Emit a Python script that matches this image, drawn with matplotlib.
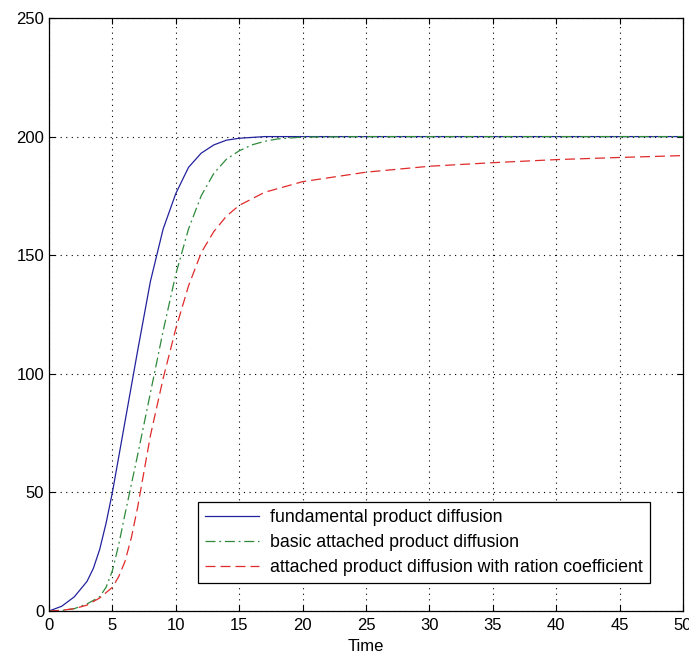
import numpy as np
import matplotlib
matplotlib.use('Agg')
import matplotlib.pyplot as plt

plt.rcParams['font.family'] = ['Liberation Sans', 'DejaVu Sans']

# values
t_fund = [0, 1, 2, 3, 3.5, 4, 4.5, 5, 5.5, 6, 6.5, 7, 8, 9, 10, 11, 12, 13, 14, 15, 17, 20, 25, 50]
y_fund = [0, 2, 6, 12.5, 18, 26, 37, 50, 65, 80, 95, 110, 139, 161, 176, 187, 193, 196.5, 198.5, 199.3, 200, 200, 200, 200]

t_basic = [0, 1, 2, 3, 4, 4.5, 5, 5.5, 6, 7, 8, 9, 10, 11, 12, 13, 14, 15, 16, 17, 18, 20, 25, 50]
y_basic = [0, 0.2, 1, 3, 6, 10, 17, 28, 41, 66, 92, 118, 142, 161, 175, 184.5, 190.5, 194, 196.5, 198, 199, 199.8, 200, 200]

t_ratio = [0, 1, 2, 3, 4, 5, 5.5, 6, 6.5, 7, 8, 9, 10, 11, 12, 13, 14, 15, 17, 20, 25, 30, 35, 40, 45, 50]
y_ratio = [0, 0.3, 1, 2.5, 5.5, 10, 14.5, 21, 31, 44, 74, 98, 119, 137, 151, 160, 166.5, 171, 176.5, 181, 185, 187.5, 189, 190.3, 191.2, 192]

labels = ['fundamental product diffusion',
          'basic attached product diffusion',
          'attached product diffusion with ration coefficient']

fig = plt.figure(figsize=(6.89, 6.59), dpi=100, facecolor='white')
ax = fig.add_axes([0.0711, 0.0728, 0.9202, 0.8999])

ax.plot(t_fund, y_fund, color='#22229e', lw=0.9, label=labels[0])
ax.plot(t_basic, y_basic, color='#2e8a3a', lw=0.9, linestyle=(0, (8, 3, 1.5, 3)), label=labels[1])
ax.plot(t_ratio, y_ratio, color='#e02a2a', lw=0.9, linestyle=(0, (8, 4)), label=labels[2])

ax.set_xlim(0, 50)
ax.set_ylim(0, 250)
ax.set_xticks(np.arange(0, 51, 5))
ax.set_yticks(np.arange(0, 251, 50))
ax.grid(True, color='black', linestyle=(0, (1, 4)), linewidth=0.8)
ax.tick_params(direction='in', length=4, top=True, right=True, labelsize=12, width=0.8)
ax.tick_params(axis='x', pad=5)
for s in ax.spines.values():
    s.set_linewidth(0.9)
ax.set_xlabel('Time', fontsize=12, labelpad=4)

leg = ax.legend(loc='lower right', bbox_to_anchor=(0.948, 0.047), fontsize=12.8,
                fancybox=False, framealpha=1, edgecolor='black', handlelength=3.0,
                handletextpad=0.65, borderpad=0.4, labelspacing=0.45, borderaxespad=0)
leg.get_frame().set_linewidth(0.9)

fig.savefig('out.png', dpi=100)
